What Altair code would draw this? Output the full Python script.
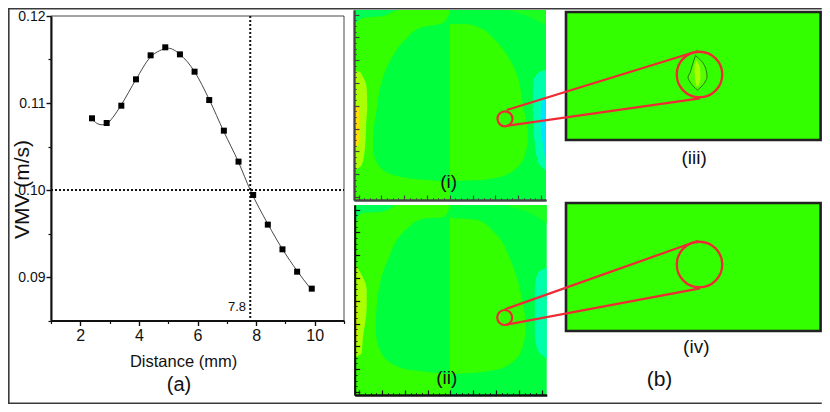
import altair as alt
import pandas as pd

# ---------- panel (a) data ----------
dist_pts = [2.4, 2.9, 3.4, 3.9, 4.4, 4.9, 5.4, 5.9, 6.4, 6.9, 7.4, 7.9, 8.4, 8.9, 9.4, 9.9]
vmv_pts = [.10824, .1077, .10969, .11272, .11548, .1164, .11559, .1136, .11034, .10682, .10326, .09943, .09602, .09318, .09061, .08866]
dist_curve = [2.45, 2.6, 2.75, 2.9, 3.1, 3.4, 3.9, 4.4, 4.7, 5.0, 5.4, 5.9, 6.4, 6.9, 7.4, 7.8, 8.4, 8.9, 9.4, 9.85]
vmv_curve = [.1080, .1076, .1075, .1076, .1083, .1098, .1127, .1153, .1160, .1163, .1156, .1136, .1104, .1067, .1032, .1000, .0961, .0932, .0907, .0887]
x_major = [2, 4, 6, 8, 10]
x_minor = [1, 3, 5, 7, 9, 11]
y_major = [.09, .10, .11, .12]
y_minor = [.085, .095, .105, .115]
cross_x = 7.8
cross_y = 0.10

# ---------- contour bands: (depth v, left u, right u) in panel units ----------
C_A, C_B, C_C, C_D, C_E, C_F, C_G, C_T = "#00ff3c", "#33ff00", "#00ff55", "#aaff00", "#ffdd00", "#00ffaa", "#00e5ff", "#1dff20"

panel_i = [
    ([0, 190], [0, 0], [192, 192], C_A),
    ([0, 190], [0, 0], [96, 96], C_B),
    ([0, 1, 6, 8, 15], [0, 0, 0, 0, 0], [45, 41, 29, 9, 1], C_C),
    ([2, 8, 13, 18, 28, 51, 78, 98, 128, 138, 148, 160, 168, 171, 172], [96, 93, 89, 66, 53, 36, 26, 23, 19, 19, 21, 29, 53, 86, 96], [96] * 15, C_A),
    ([61, 62, 65, 78, 98, 105, 138, 155, 160], [0] * 9, [1, 6, 8, 12.7, 13.3, 12.7, 11, 7.7, 1], C_D),
    ([95, 98, 128, 135, 138], [0] * 5, [1, 5, 5.5, 4, 1], C_E),
    ([13.9, 14, 18, 28, 45, 65, 95, 105, 125, 145, 163, 170, 171], [96] * 13, [96, 113, 126, 139, 153, 163, 169, 171, 174, 171, 156, 129, 96], C_B),
    ([0, 6, 15], [153, 173, 191], [192, 192, 192], C_T),
    ([60, 63, 73, 98, 125, 152, 160], [191, 184, 179, 178.7, 180, 184, 191], [192] * 7, C_F),
    ([88, 95, 115, 135, 148], [191, 187, 186.5, 189, 191], [192] * 5, C_G),
]
panel_ii = [
    ([0, 190], [0, 0], [192, 192], C_A),
    ([0, 190], [0, 0], [96, 96], C_B),
    ([0, 7, 8, 17], [0, 0, 0, 0], [40, 27, 7, 1], C_C),
    ([0, 11.7, 14, 23, 55, 92, 125, 148, 163, 169], [95, 90, 66.7, 53, 33, 23, 21, 26.7, 46.7, 95], [96] * 10, C_A),
    ([60, 65, 70, 85, 102, 135, 148, 152], [0] * 8, [1, 4, 7, 12, 12, 8, 7, 1], C_D),
    ([95, 138], [0, 0], [2, 2], "#d8e000"),
    ([13, 15, 28, 58, 92, 122, 145, 162, 168, 169], [95] * 10, [95, 123, 140, 157, 167, 171, 167, 150, 117, 95], C_B),
    ([0, 5, 18], [150, 167, 191], [192, 192, 192], C_T),
    ([63, 68, 85, 128, 145, 153], [191, 183, 180, 180, 183, 191], [192] * 6, C_F),
]
tick_major = [4.5 + 22.8 * k for k in range(9)]
tick_minor = [4.5 + 5.7 * k for k in range(33)]

# ---------- figure annotations ----------
frame_x = [821.8, 8.8, 8.8, 821.8]
frame_y = [8.8, 8.8, 403.2, 403.2]
rect_iii = ([566, 820.6], [12, 140])
rect_iv = ([566, 820.6], [203, 331])
wedges = [
    ([506.7, 698], [110, 51]),
    ([505.7, 700], [126, 98.3]),
    ([505, 698.3], [309.3, 240.7]),
    ([505, 700], [325, 288.3]),
]
big_circles = ([699.5, 699.5], [74.5, 264.5])
small_circles = ([505, 504.7], [118.8, 317.5])
leaf_y = [55.5, 63, 68, 73, 77, 82, 87, 90]
leaf_l = [695.5, 693, 691.5, 690, 688, 690, 694, 697.5]
leaf_r = [695.5, 703, 705.5, 706.7, 707, 705, 701, 697.5]
core_y = [60, 68, 78, 86]
core_l = [696, 694.5, 695, 696.5]
core_r = [696, 700, 700.5, 698]
labels_reg = (["(b)"], [659.5], [380])
labels_big = (["(a)"], [179], [385])
labels_narrow = (["(i)", "(ii)", "(iii)", "(iv)"], [448.7, 446.7, 694.2, 696.3], [181.5, 377.5, 158, 346.7])
label_78 = ("7.8", 7.04, 0.0865)

W, H = 814, 396
FX = alt.Scale(domain=[0, 830], range=[-8, 822], nice=False, zero=False)
FY = alt.Scale(domain=[0, 412], range=[-8, 404], nice=False, zero=False)
AX = alt.Scale(domain=[1, 11], range=[43, 336], nice=False, zero=False)
AY = alt.Scale(domain=[0.085, 0.12], range=[312.5, 8], nice=False, zero=False)
SANS = "Liberation Sans"
layers = []


def fx(field="x"):
    return alt.X(f"{field}:Q", scale=FX, axis=None)


def fy(field="y"):
    return alt.Y(f"{field}:Q", scale=FY, axis=None)


# figure frame
layers.append(alt.Chart(pd.DataFrame({"x": frame_x, "y": frame_y, "i": range(len(frame_x))}))
              .mark_line(color="#3a3a3a", strokeWidth=1.6)
              .encode(x=fx(), y=fy(), order="i:Q"))


# contour panels
def panel(bands, left, top, axis_color):
    sx = alt.Scale(domain=[0, 192], range=[left - 8, left + 184], nice=False, zero=False)
    sy = alt.Scale(domain=[0, 190], range=[top - 8, top + 182], nice=False, zero=False)
    out = []
    for v, u1, u2, col in bands:
        df = pd.DataFrame({"v": v, "u": u1, "u2": u2})
        out.append(alt.Chart(df).mark_area(orient="horizontal", color=col, interpolate="monotone")
                   .encode(x=alt.X("u:Q", scale=sx, axis=None), x2="u2:Q",
                           y=alt.Y("v:Q", scale=sy, axis=None, sort=None)))
    base = pd.DataFrame({"u": [0], "v": [0]})
    for vals, size, width, dom in [(tick_minor, 2.5, 0.8, True), (tick_major, 5, 1.2, True)]:
        out.append(alt.Chart(base).mark_point(opacity=0).encode(
            x=alt.X("u:Q", scale=sx, axis=alt.Axis(orient="top", offset=-(top + 182), values=vals, labels=False, title=None,
                                                   tickSize=size, tickWidth=width, tickColor=axis_color, grid=False,
                                                   domain=dom, domainColor=axis_color, domainWidth=1.8, zindex=1)),
            y=alt.Y("v:Q", scale=sy, axis=alt.Axis(orient="right", offset=left - 8 - W, values=vals, labels=False, title=None,
                                                   tickSize=size, tickWidth=width, tickColor=axis_color, grid=False,
                                                   domain=dom, domainColor=axis_color, domainWidth=1.8, zindex=1))))
    return out


layers += panel(panel_i, 354, 10, "#444444")
layers += panel(panel_ii, 354.7, 205, "#111111")

# zoom rectangles
for r in (rect_iii, rect_iv):
    layers.append(alt.Chart(pd.DataFrame({"x": [r[0][0]], "x2": [r[0][1]], "y": [r[1][0]], "y2": [r[1][1]]}))
                  .mark_rect(fill=C_B, stroke="#222222", strokeWidth=2.6)
                  .encode(x=fx(), x2="x2:Q", y=fy(), y2="y2:Q"))

# leaf inside the magnified circle
layers.append(alt.Chart(pd.DataFrame({"y": leaf_y, "x": leaf_l, "x2": leaf_r}))
              .mark_area(orient="horizontal", color="#55ff00", stroke="#1f5a12", strokeWidth=0.8, interpolate="monotone")
              .encode(x=fx(), x2="x2:Q", y=alt.Y("y:Q", scale=FY, axis=None, sort=None)))
layers.append(alt.Chart(pd.DataFrame({"y": core_y, "x": core_l, "x2": core_r}))
              .mark_area(orient="horizontal", color="#aaff00", interpolate="monotone")
              .encode(x=fx(), x2="x2:Q", y=alt.Y("y:Q", scale=FY, axis=None, sort=None)))

# wedges and circles
for xs, ys in wedges:
    layers.append(alt.Chart(pd.DataFrame({"x": xs, "y": ys}))
                  .mark_line(color="#ee2a35", strokeWidth=2.2).encode(x=fx(), y=fy()))
layers.append(alt.Chart(pd.DataFrame({"x": big_circles[0], "y": big_circles[1]}))
              .mark_point(shape="circle", size=2070, color="#ee2a35", strokeWidth=2.3, opacity=1).encode(x=fx(), y=fy()))
layers.append(alt.Chart(pd.DataFrame({"x": small_circles[0], "y": small_circles[1]}))
              .mark_point(shape="circle", size=225, color="#ee2a35", strokeWidth=2.2, opacity=1).encode(x=fx(), y=fy()))

# panel (a): frame, axes, curves
layers.append(alt.Chart(pd.DataFrame({"x": [1], "x2": [11], "y": [0.085], "y2": [0.12]}))
              .mark_rect(fillOpacity=0, stroke="#333333", strokeWidth=0.9)
              .encode(x=alt.X("x:Q", scale=AX, axis=None), x2="x2:Q", y=alt.Y("y:Q", scale=AY, axis=None), y2="y2:Q"))
layers.append(alt.Chart(pd.DataFrame({"x": [1], "y": [0.1]})).mark_point(opacity=0).encode(
    x=alt.X("x:Q", scale=AX, axis=alt.Axis(orient="bottom", offset=312.5 - H, values=x_minor, labels=False, title=None,
                                           tickSize=3, tickWidth=1.2, tickColor="#111111", grid=False, domain=False, zindex=1)),
    y=alt.Y("y:Q", scale=AY, axis=alt.Axis(orient="left", offset=-43, values=y_minor, labels=False, title=None,
                                           tickSize=3, tickWidth=1.2, tickColor="#111111", grid=False, domain=False, zindex=1))))
layers.append(alt.Chart(pd.DataFrame({"x": [1], "y": [0.1]})).mark_point(opacity=0).encode(
    x=alt.X("x:Q", scale=AX, title="Distance (mm)", axis=alt.Axis(
        orient="bottom", offset=312.5 - H, values=x_major, format="d", grid=False, tickSize=5, tickWidth=1.4, tickColor="#111111",
        domainColor="#111111", domainWidth=2, labelFont=SANS, labelFontSize=16, labelColor="#111111", labelPadding=2,
        titleFont=SANS, titleFontSize=16.5, titleFontWeight="normal", titleColor="#111111", titleX=175, titleY=33, zindex=1)),
    y=alt.Y("y:Q", scale=AY, title="VMV (m/s)", axis=alt.Axis(
        orient="left", offset=-43, values=y_major, format=".2f", grid=False, tickSize=5, tickWidth=1.4, tickColor="#111111",
        domainColor="#111111", domainWidth=2, labelFont=SANS, labelFontSize=14, labelColor="#111111", labelPadding=1,
        titleFont=SANS, titleFontSize=21, titleFontWeight="normal", titleColor="#111111", titleX=-19, titleY=181, zindex=1))))

layers.append(alt.Chart(pd.DataFrame({"x": [cross_x]})).mark_rule(color="#111111", strokeWidth=2, strokeDash=[2, 2]).encode(
    x=alt.X("x:Q", scale=AX, axis=None), y=alt.value(8), y2=alt.value(312.5)))
layers.append(alt.Chart(pd.DataFrame({"y": [cross_y]})).mark_rule(color="#111111", strokeWidth=2, strokeDash=[2, 2]).encode(
    y=alt.Y("y:Q", scale=AY, axis=None), x=alt.value(43), x2=alt.value(336)))
layers.append(alt.Chart(pd.DataFrame({"x": dist_curve, "y": vmv_curve})).mark_line(color="#333333", strokeWidth=0.9, interpolate="monotone")
              .encode(x=alt.X("x:Q", scale=AX, axis=None), y=alt.Y("y:Q", scale=AY, axis=None)))
layers.append(alt.Chart(pd.DataFrame({"x": dist_pts, "y": vmv_pts})).mark_square(color="#000000", size=36, opacity=1)
              .encode(x=alt.X("x:Q", scale=AX, axis=None), y=alt.Y("y:Q", scale=AY, axis=None)))
layers.append(alt.Chart(pd.DataFrame({"x": [label_78[1]], "y": [label_78[2]], "t": [label_78[0]]}))
              .mark_text(font=SANS, fontSize=13, color="#111111", align="left", baseline="middle")
              .encode(x=alt.X("x:Q", scale=AX, axis=None), y=alt.Y("y:Q", scale=AY, axis=None), text="t:N"))


# text labels
def text_layer(spec, font, size):
    return (alt.Chart(pd.DataFrame({"t": spec[0], "x": spec[1], "y": spec[2]}))
            .mark_text(font=font, fontSize=size, color="#111111", align="center", baseline="middle")
            .encode(x=fx(), y=fy(), text="t:N"))


layers.append(text_layer(labels_big, SANS, 20))
layers.append(text_layer(labels_reg, SANS, 21))
layers.append(text_layer(labels_narrow, SANS, 19))

chart = (alt.layer(*layers)
         .resolve_scale(x="independent", y="independent")
         .resolve_axis(x="independent", y="independent")
         .properties(width=W, height=H, padding=0, background="white", autosize=alt.AutoSizeParams(type="none"))
         .configure_view(stroke=None))

chart.save("out.html", embed_options={"renderer": "svg", "actions": False})
